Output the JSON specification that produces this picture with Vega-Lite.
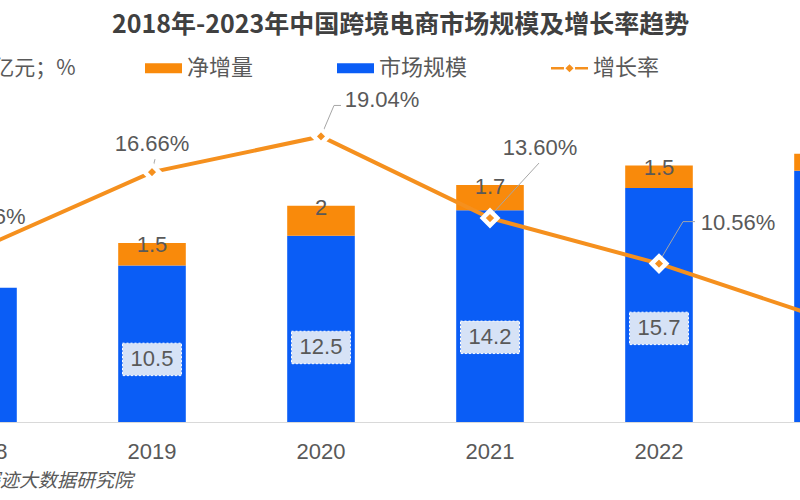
{
  "$schema": "https://vega.github.io/schema/vega-lite/v6.json",
  "autosize": {"type": "none"},
  "width": 1014,
  "height": 322,
  "padding": {"left": -101.5, "top": 100, "right": -112.5, "bottom": 78},
  "background": "white",
  "config": {"view": {"stroke": null}, "font": "Noto Sans CJK SC"},
  "title": {
    "text": "2018年-2023年中国跨境电商市场规模及增长率趋势",
    "font": "Noto Sans CJK SC",
    "fontSize": 25,
    "fontWeight": "bold",
    "color": "#404040",
    "anchor": "middle",
    "frame": "group",
    "dx": -5,
    "offset": 12
  },
  "data": {
    "values": [
      {"year": "2018", "市场规模": 9.0, "净增量": null, "增长率": 0.1166},
      {"year": "2019", "市场规模": 10.5, "净增量": 1.5, "增长率": 0.1666},
      {"year": "2020", "市场规模": 12.5, "净增量": 2, "增长率": 0.1904},
      {"year": "2021", "市场规模": 14.2, "净增量": 1.7, "增长率": 0.136},
      {"year": "2022", "市场规模": 15.7, "净增量": 1.5, "增长率": 0.1056},
      {"year": "2023", "市场规模": 16.85, "净增量": 1.15, "增长率": 0.068}
    ]
  },
  "encoding": {
    "x": {
      "field": "year",
      "type": "nominal",
      "scale": {"paddingInner": 0.6, "paddingOuter": 0.3},
      "axis": {
        "title": "数据来源：探迹大数据研究院",
        "titleFont": "Noto Sans CJK SC",
        "titleFontSize": 19,
        "titleFontStyle": "italic",
        "titleFontWeight": "normal",
        "titleColor": "#595959",
        "titleAlign": "right",
        "titleBaseline": "middle",
        "titleX": 234,
        "titleY": 58,
        "labelFont": "Liberation Sans",
        "labelFontSize": 22,
        "labelColor": "#595959",
        "labelAngle": 0,
        "labelPadding": 19,
        "ticks": false,
        "grid": false,
        "domainColor": "#D9D9D9",
        "domainWidth": 1
      }
    }
  },
  "layer": [
    {
      "transform": [
        {"fold": ["市场规模", "净增量"], "as": ["key", "value"]},
        {"filter": "isValid(datum.value)"}
      ],
      "mark": {"type": "bar"},
      "encoding": {
        "y": {
          "field": "value",
          "type": "quantitative",
          "stack": "zero",
          "scale": {"domain": [0, 21.6]},
          "axis": {
            "title": "单位：万亿元；%",
            "titleAngle": 0,
            "titleAlign": "right",
            "titleBaseline": "middle",
            "titleX": 176.5,
            "titleY": -32,
            "titleFont": "Noto Sans CJK SC",
            "titleFontSize": 21,
            "titleFontWeight": "normal",
            "titleColor": "#595959",
            "labels": false,
            "ticks": false,
            "domain": false,
            "grid": false
          }
        },
        "color": {
          "field": "key",
          "type": "nominal",
          "scale": {"domain": ["净增量", "市场规模", "增长率"], "range": ["#F98A0B", "#0A5DF6", "#F5901E"]},
          "legend": {
            "orient": "none",
            "direction": "horizontal",
            "legendX": 246.5,
            "legendY": -50.5,
            "title": null,
            "padding": 0,
            "labelFont": "Noto Sans CJK SC",
            "labelFontSize": 22,
            "labelColor": "#595959",
            "labelOffset": 5,
            "columnPadding": 83,
            "symbolSize": 1369,
            "symbolStrokeWidth": 0,
            "encode": {
              "symbols": {
                "update": {
                  "shape": {"signal": "datum.value === '增长率' ? 'M-1,-0.07H-0.3V0.07H-1Z M0.3,-0.07H1V0.07H0.3Z M0,-0.22L0.22,0L0,0.22L-0.22,0Z' : 'M-1,-0.27H1V0.27H-1Z'"},
                  "fill": {"signal": "datum.value === '市场规模' ? '#0A5DF6' : '#F98A0B'"},
                  "strokeWidth": {"value": 0}
                }
              }
            }
          }
        },
        "order": {"field": "key", "sort": "descending"}
      }
    },
    {
      "transform": [{"filter": "datum.year !== '2018' && datum.year !== '2023'"}],
      "encoding": {
        "y": {"field": "市场规模", "type": "quantitative", "scale": {"domain": [0, 54]}, "axis": null}
      },
      "layer": [
        {
          "mark": {"type": "point", "shape": "M-1,-0.55H1V0.55H-1Z", "size": 3481, "filled": true, "fill": "#D6E2F6", "stroke": "#FFFFFF", "strokeWidth": 1, "strokeDash": [2, 2], "opacity": 1}
        },
        {
          "mark": {"type": "text", "font": "Liberation Sans", "fontSize": 22, "color": "#595959", "baseline": "middle"},
          "encoding": {"text": {"field": "市场规模", "type": "quantitative", "format": ".1f"}}
        }
      ]
    },
    {
      "transform": [
        {"fold": ["市场规模", "净增量"], "as": ["key", "value"]},
        {"filter": "isValid(datum.value)"},
        {"stack": "value", "groupby": ["year"], "sort": [{"field": "key", "order": "descending"}], "as": ["v0", "v1"]},
        {"filter": "datum.key === '净增量'"}
      ],
      "mark": {"type": "text", "font": "Liberation Sans", "fontSize": 22, "color": "#595959", "baseline": "middle", "dy": 2},
      "encoding": {
        "y": {"field": "v1", "type": "quantitative", "scale": {"domain": [0, 21.6]}, "axis": null},
        "text": {"field": "value", "type": "quantitative"}
      }
    },
    {
      "encoding": {
        "y": {"field": "增长率", "type": "quantitative", "scale": {"domain": [0, 0.2147]}, "axis": null}
      },
      "layer": [
        {
          "mark": {"type": "line", "strokeWidth": 4},
          "encoding": {"color": {"datum": "增长率"}}
        },
        {
          "mark": {"type": "point", "size": 4, "filled": false, "stroke": "#A6A6A6", "strokeWidth": 1, "opacity": 1},
          "encoding": {
            "shape": {
              "field": "year",
              "type": "nominal",
              "scale": {
                "domain": ["2018", "2019", "2020", "2021", "2022", "2023"],
                "range": ["M1,-5L3,-13", "M1,-5L3,-13", "M2,-5L13,-31H20", "M3,-5L49,-55", "M2,-5L24,-42H36", "M2,-5L24,-42H36"]
              },
              "legend": null
            }
          }
        },
        {
          "mark": {"type": "point", "shape": "diamond", "filled": true, "fill": "#F5901E", "stroke": "#FFFFFF", "strokeWidth": 4.5, "size": 210, "opacity": 1}
        },
        {
          "transform": [{"filter": "datum.year === '2018'"}],
          "mark": {"type": "text", "font": "Liberation Sans", "fontSize": 22, "color": "#595959", "baseline": "middle", "dx": 6, "dy": -30},
          "encoding": {"text": {"field": "增长率", "type": "quantitative", "format": ".2%"}}
        },
        {
          "transform": [{"filter": "datum.year === '2019'"}],
          "mark": {"type": "text", "font": "Liberation Sans", "fontSize": 22, "color": "#595959", "baseline": "middle", "dy": -28},
          "encoding": {"text": {"field": "增长率", "type": "quantitative", "format": ".2%"}}
        },
        {
          "transform": [{"filter": "datum.year === '2020'"}],
          "mark": {"type": "text", "font": "Liberation Sans", "fontSize": 22, "color": "#595959", "baseline": "middle", "dx": 61, "dy": -36},
          "encoding": {"text": {"field": "增长率", "type": "quantitative", "format": ".2%"}}
        },
        {
          "transform": [{"filter": "datum.year === '2021'"}],
          "mark": {"type": "text", "font": "Liberation Sans", "fontSize": 22, "color": "#595959", "baseline": "middle", "dx": 50, "dy": -70},
          "encoding": {"text": {"field": "增长率", "type": "quantitative", "format": ".2%"}}
        },
        {
          "transform": [{"filter": "datum.year === '2022'"}],
          "mark": {"type": "text", "font": "Liberation Sans", "fontSize": 22, "color": "#595959", "baseline": "middle", "dx": 79, "dy": -41},
          "encoding": {"text": {"field": "增长率", "type": "quantitative", "format": ".2%"}}
        }
      ]
    }
  ],
  "resolve": {"scale": {"y": "independent"}}
}
